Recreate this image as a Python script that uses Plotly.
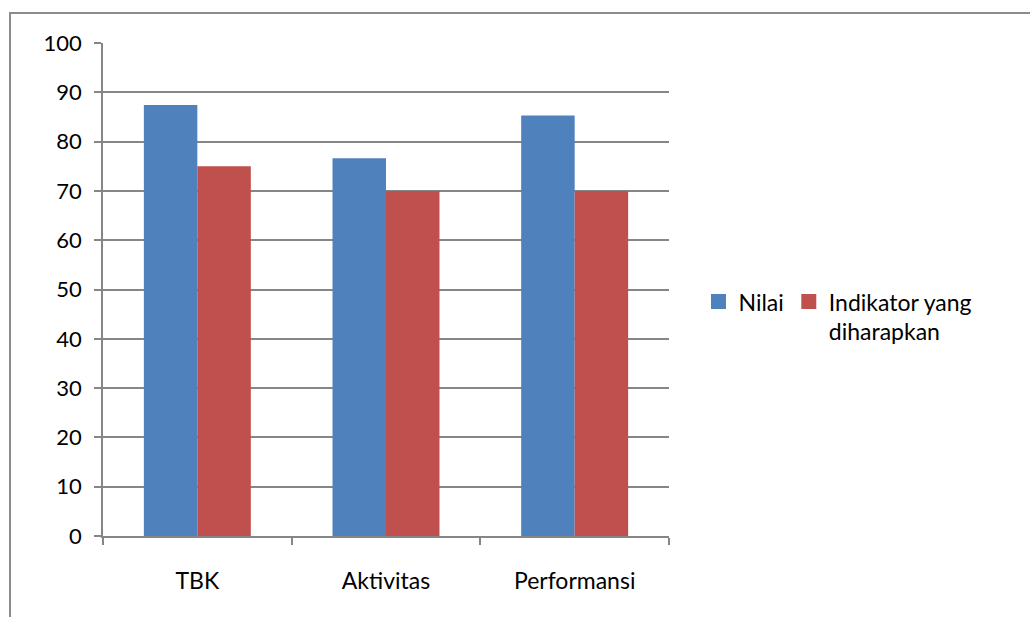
import plotly.graph_objects as go

categories = ["TBK", "Aktivitas", "Performansi"]
nilai = [87.4, 76.6, 85.3]
indikator = [75, 70, 70]
series_names = ["Nilai", "Indikator yang<br>diharapkan"]
series_colors = ["#4F81BD", "#C0504D"]
y_ticks = [0, 10, 20, 30, 40, 50, 60, 70, 80, 90, 100]

FONT = "Lato"
GRID = "#868686"

fig = go.Figure()
for name, vals, color in zip(series_names, [nilai, indikator], series_colors):
    fig.add_trace(go.Bar(x=categories, y=vals, name=name, showlegend=False,
                         legendgroup=name,
                         marker=dict(color=color, line=dict(width=0))))
    # square legend swatch
    fig.add_trace(go.Scatter(x=[None], y=[None], mode="markers", name=name,
                             legendgroup=name,
                             marker=dict(symbol="square", size=15, color=color)))

fig.update_layout(
    width=1030, height=617,
    margin=dict(l=103, r=361, t=43, b=81),
    paper_bgcolor="white", plot_bgcolor="white",
    barmode="group", bargap=0.433, bargroupgap=0,
    font=dict(family=FONT, size=23, color="black"),
    showlegend=True,
    legend=dict(orientation="h", x=1.0521, y=0.445, xanchor="left", yanchor="middle",
                valign="top", font=dict(family=FONT, size=23, color="black"),
                itemwidth=30, tracegroupgap=0, bgcolor="rgba(0,0,0,0)"),
    xaxis=dict(type="category", showline=True, linecolor=GRID, linewidth=1.5,
               ticks="outside", tickson="boundaries", ticklen=7, tickcolor=GRID,
               tickwidth=1.5, showgrid=False, ticklabelstandoff=24,
               tickfont=dict(family=FONT, size=23, color="black")),
    yaxis=dict(range=[0, 100], tickvals=y_ticks, showline=True, linecolor=GRID,
               linewidth=1.5, ticks="outside", ticklen=7, tickcolor=GRID,
               tickwidth=1.5, showgrid=True, gridcolor=GRID, gridwidth=1.5,
               zeroline=False, ticklabelstandoff=8,
               tickfont=dict(family=FONT, size=22, color="black")),
    shapes=[dict(type="rect", xref="paper", yref="paper",
                 x0=-0.1643, x1=3, y0=-2, y1=1.0609,
                 line=dict(color="#8C8C8C", width=2), fillcolor="rgba(0,0,0,0)",
                 layer="below")],
)

fig.write_html("out.html")
